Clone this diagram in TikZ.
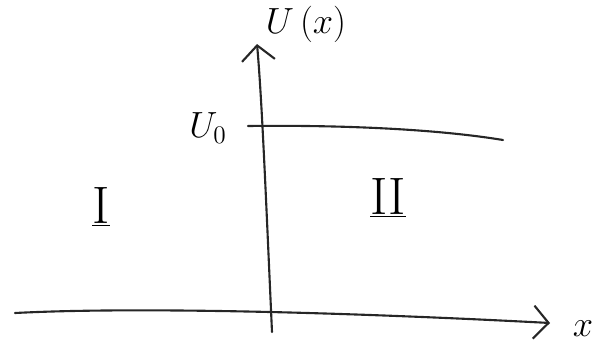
\documentclass[tikz,border=0pt]{standalone}
\usetikzlibrary{arrows.meta}
\begin{document}
\begin{tikzpicture}[x=0.02cm,y=-0.02cm,
  stroke/.style={line width=1.2pt,line cap=round,black!85},
  axisarrow/.style={stroke,-{Straight Barb[length=0.3cm,width=0.66cm,line width=1.2pt]}},
  lbl/.style={inner sep=0pt,font=\fontsize{22}{26}\selectfont},
  roman/.style={inner sep=0pt,font=\fontsize{30}{34}\selectfont}]
\useasboundingbox (0,0) rectangle (597,345);
% coordinates
\coordinate (xl) at (15,313);
\coordinate (xr) at (550,323);
\coordinate (yb) at (272,332);
\coordinate (yt) at (257,44);
\coordinate (vl) at (248,126);
\coordinate (vr) at (503,140);
% axes
\draw[axisarrow] (xl) .. controls (150,306) and (380,314) .. (xr);
\draw[axisarrow] (yb) .. controls (266,200) and (262,100) .. (yt);
% potential step
\draw[stroke] (vl) .. controls (330,125) and (430,128) .. (vr);
% labels
\node[lbl] (ux) at (306,24) {$U\,(x)$};
\node[lbl] (uo) at (208,128) {$U_0$};
\node[lbl] (xx) at (583,329) {$x$};
\node[roman] (r1) at (101,207) {\underline{I}};
\node[roman] (r2) at (388,198) {\underline{II}};
\end{tikzpicture}
\end{document}
